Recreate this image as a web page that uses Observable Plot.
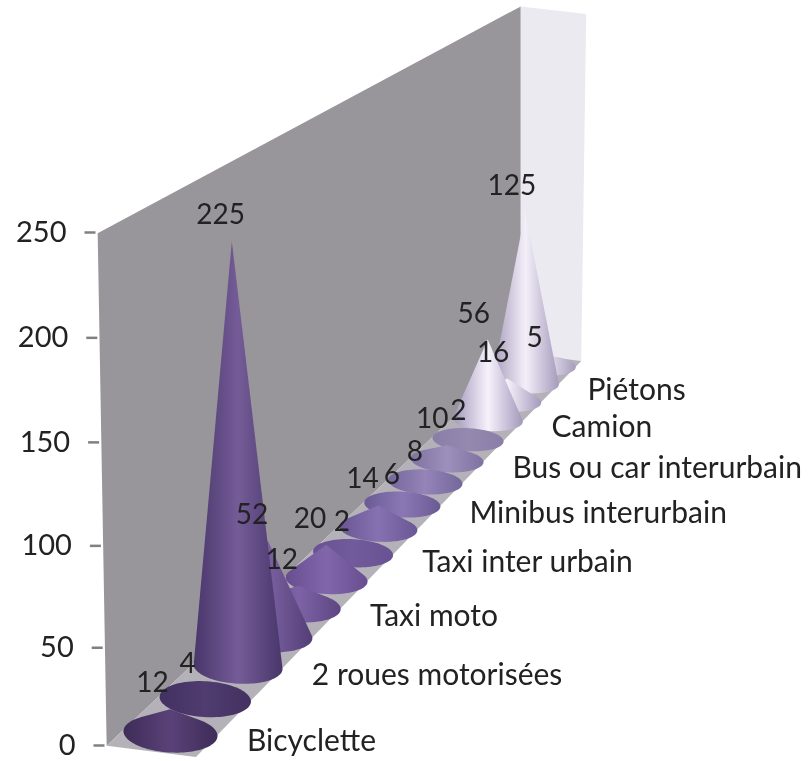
<!DOCTYPE html>
<html><head><meta charset="utf-8">
<style>html,body{margin:0;padding:0;background:#fff}svg{display:block}</style>
<script src="https://cdn.jsdelivr.net/npm/d3@7"></script>
<script src="https://cdn.jsdelivr.net/npm/@observablehq/plot@0.6"></script>
</head><body>
<div id="chart"></div>
<script>
// --- data ---
const categories = ["Bicyclette","2 roues motorisées","Taxi moto","Taxi inter urbain","Minibus interurbain","Bus ou car interurbain","Camion","Piétons"];
const seriesFront = [12,225,12,2,6,10,56,125];
const seriesBack  = [4,52,20,14,8,2,16,5];
const yTicks = [0,50,100,150,200,250];

const values = categories.flatMap((c,i)=>[seriesFront[i],seriesBack[i]]);

// --- oblique projection of the 3D floor ---
const K=0.0294;
const persp=d=>1/(1+K*d);
const fx=d=>170+35.8*d*persp(d);
const fy=d=>733-35.35*d*persp(d);
const unit=d=>2.02*persp(d);
const coneUnit=d=>2.02/(1+.034*d);
const yExp=1.03;
const yInv=d3.scalePow().exponent(yExp).domain([0,250]).range([745,232]);
const Y=px=>yInv.invert(px);
const pt=(x,y)=>({x,y:Y(y)});
const lean=(d,h)=>-9*h/513*(1-(d+.5)/16);

const corner=(d,u,h=0,extra=0)=>{
  const s=persp(d);
  const px=fx(d)+u*(u<0?45:43)*s, py=fy(d)+u*5.5*s-h*unit(d);
  return pt(px+lean(d,h*unit(d))+extra,py);
};
const backWall=[corner(-.5,-1),corner(-.5,-1,250),corner(15.5,-1,250),corner(15.5,-1)];
const sideWall=[corner(15.5,-1),corner(15.5,-1,250),corner(15.5,1,250,5),corner(15.5,1)];
const floor=[corner(-.5,-1),corner(-.5,1),corner(15.5,1),corner(15.5,-1)];

function cone(v,d){
  const s=persp(d), rx=47*s, ry=19/(1+2*K*d), H=v*coneUnit(d);
  const cx=fx(d), cy=fy(d), pts=[];
  const P=(a)=>{const ex=rx*Math.cos(a);return [cx+ex,cy+ry*Math.sin(a)+ex*0.05]};
  if(H<=ry*1.02){
    for(let a=0;a<2*Math.PI;a+=Math.PI/45){const p=P(a);pts.push(pt(p[0],p[1]))}
  }else{
    const a0=Math.asin(-ry/H);
    pts.push(pt(cx+lean(d,H),cy-H));
    for(let a=a0;a<=Math.PI-a0+1e-6;a+=Math.PI/60){const p=P(a);pts.push(pt(p[0],p[1]))}
  }
  return pts;
}

const edgeCol=d3.scaleLinear().domain([0,2,5,8,11,12,15]).range(["#3e2c58","#48366a","#684e90","#6a5a94","#8a7ea8","#a398bc","#a69cbc"]);
const midCol =d3.scaleLinear().domain([0,2,5,8,11,12,15]).range(["#5a4278","#755c98","#8166ac","#8a78b4","#a89cc0","#f6f2fb","#f2eef8"]);

const defs=()=>{
  const g=d3.create("svg:defs");
  values.forEach((v,i)=>{
    const flat=v<=4;
    const c1=edgeCol(i), c2=flat?d3.interpolateRgb(edgeCol(i),midCol(i))(.35):midCol(i);
    const lg=g.append("linearGradient").attr("id","cone"+i);
    [[0,c1],[.5,c2],[1,c1]].forEach(([o,c])=>lg.append("stop").attr("offset",o).attr("stop-color",c));
  });
  return g.node();
};

const poly=(pts,fill)=>Plot.line(pts,{x:"x",y:"y",fill,stroke:"none",curve:"linear-closed"});

const wallX=v=>104-9*v/250;
const tickRows=yTicks.map(v=>({v,x1:wallX(v)-11,x2:wallX(v),lx:wallX(v)-29}));

const dataLabels=values.map((v,d)=>{
  const H=v*coneUnit(d), ry=19/(1+2*K*d);
  const top=fy(d)-Math.max(H,ry);
  const nudge=(H<ry && d>=6)?5:0;
  return {t:String(v),x:fx(d)-18+.3*d+nudge,y:Y(top-(H<ry?17:26))};
});
const catLabels=categories.map((t,i)=>{
  const d=2*i+.5;
  return {t,x:fx(d)+59-6*d/14.5,y:Y(fy(d)+26-10*d/14.5)};
});

const chart=Plot.plot({
  width:812,height:761,margin:0,
  style:{fontFamily:"Lato, 'Open Sans', sans-serif",background:"#fff",overflow:"visible",filter:"blur(0.6px)"},
  x:{axis:null,domain:[0,812],range:[0,812]},
  y:{axis:null,type:"pow",exponent:yExp,domain:[0,250],range:[745,232]},
  marks:[
    defs,
    poly(backWall,"#98969b"),
    poly(sideWall,"#eceaf1"),
    poly(floor,"#b4b2b8"),
    Plot.link(tickRows,{x1:"x1",x2:"x2",y1:"v",y2:"v",stroke:"#808080",strokeWidth:2.5}),
    Plot.text(tickRows,{x:"lx",y:"v",text:d=>String(d.v),textAnchor:"end",lineAnchor:"middle",fontSize:29,fill:"#222"}),
    ...values.map((v,d)=>({v,d})).reverse().map(({v,d})=>poly(cone(v,d),`url(#cone${d})`)),
    Plot.text(dataLabels,{x:"x",y:"y",text:"t",textAnchor:"middle",lineAnchor:"middle",fontSize:28,fill:"#222"}),
    Plot.text(catLabels,{x:"x",y:"y",text:"t",textAnchor:"start",lineAnchor:"middle",fontSize:30,fill:"#222"})
  ]
});
document.getElementById("chart").append(chart);
</script>
</body></html>
